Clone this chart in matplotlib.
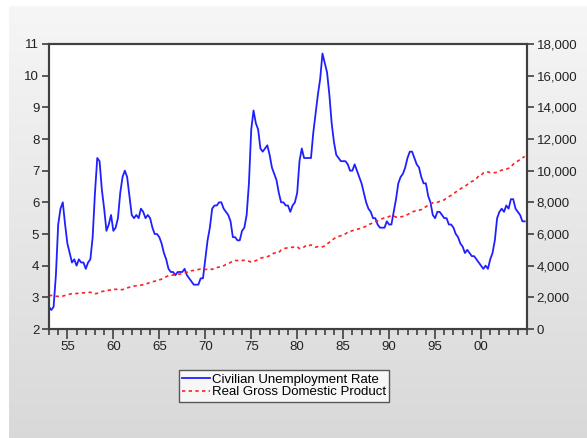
import numpy as np
import matplotlib
matplotlib.use('Agg')
import matplotlib.pyplot as plt
from matplotlib.ticker import FuncFormatter, MultipleLocator


# quarterly data, 1953Q1 - 2004Q4
start_year = 1953
unemployment = [
    2.7, 2.6, 2.7, 3.7,  5.3, 5.8, 6.0, 5.3,  4.7, 4.4, 4.1, 4.2,
    4.0, 4.2, 4.1, 4.1,  3.9, 4.1, 4.2, 4.9,  6.3, 7.4, 7.3, 6.4,
    5.8, 5.1, 5.3, 5.6,  5.1, 5.2, 5.5, 6.3,  6.8, 7.0, 6.8, 6.2,
    5.6, 5.5, 5.6, 5.5,  5.8, 5.7, 5.5, 5.6,  5.5, 5.2, 5.0, 5.0,
    4.9, 4.7, 4.4, 4.2,  3.9, 3.8, 3.8, 3.7,  3.8, 3.8, 3.8, 3.9,
    3.7, 3.6, 3.5, 3.4,  3.4, 3.4, 3.6, 3.6,  4.2, 4.8, 5.2, 5.8,
    5.9, 5.9, 6.0, 6.0,  5.8, 5.7, 5.6, 5.4,  4.9, 4.9, 4.8, 4.8,
    5.1, 5.2, 5.6, 6.6,  8.3, 8.9, 8.5, 8.3,  7.7, 7.6, 7.7, 7.8,
    7.5, 7.1, 6.9, 6.7,  6.3, 6.0, 6.0, 5.9,  5.9, 5.7, 5.9, 6.0,
    6.3, 7.3, 7.7, 7.4,  7.4, 7.4, 7.4, 8.2,  8.8, 9.4, 9.9, 10.7,
    10.4, 10.1, 9.4, 8.5,  7.9, 7.5, 7.4, 7.3,  7.3, 7.3, 7.2, 7.0,
    7.0, 7.2, 7.0, 6.8,  6.6, 6.3, 6.0, 5.8,  5.7, 5.5, 5.5, 5.3,
    5.2, 5.2, 5.2, 5.4,  5.3, 5.3, 5.7, 6.1,  6.6, 6.8, 6.9, 7.1,
    7.4, 7.6, 7.6, 7.4,  7.2, 7.1, 6.8, 6.6,  6.6, 6.2, 6.0, 5.6,
    5.5, 5.7, 5.7, 5.6,  5.5, 5.5, 5.3, 5.3,  5.2, 5.0, 4.9, 4.7,
    4.6, 4.4, 4.5, 4.4,  4.3, 4.3, 4.2, 4.1,  4.0, 3.9, 4.0, 3.9,
    4.2, 4.4, 4.8, 5.5,  5.7, 5.8, 5.7, 5.9,  5.8, 6.1, 6.1, 5.8,
    5.7, 5.6, 5.4, 5.4,
]
real_gdp = [
    2110, 2120, 2100, 2070,  2060, 2060, 2080, 2120,  2170, 2200, 2230, 2250,
    2240, 2260, 2260, 2280,  2300, 2300, 2320, 2280,  2230, 2250, 2300, 2360,
    2400, 2460, 2450, 2460,  2520, 2500, 2510, 2480,  2490, 2540, 2590, 2640,
    2680, 2710, 2730, 2740,  2770, 2800, 2860, 2880,  2950, 2980, 3020, 3030,
    3100, 3150, 3220, 3300,  3370, 3390, 3410, 3430,  3460, 3470, 3500, 3520,
    3580, 3650, 3680, 3700,  3750, 3760, 3780, 3760,  3760, 3770, 3800, 3760,
    3860, 3880, 3910, 3920,  3990, 4080, 4130, 4200,  4310, 4330, 4320, 4360,
    4330, 4340, 4300, 4280,  4220, 4250, 4320, 4370,  4470, 4510, 4530, 4570,
    4630, 4720, 4800, 4800,  4830, 4990, 5050, 5110,  5120, 5130, 5170, 5180,
    5190, 5080, 5080, 5180,  5290, 5250, 5310, 5250,  5170, 5200, 5180, 5190,
    5250, 5370, 5480, 5590,  5700, 5800, 5850, 5890,  5960, 6010, 6110, 6150,
    6210, 6240, 6300, 6330,  6370, 6430, 6500, 6610,  6640, 6720, 6760, 6840,
    6920, 6970, 7020, 7030,  7110, 7150, 7130, 7070,  7040, 7080, 7110, 7140,
    7230, 7300, 7370, 7450,  7450, 7500, 7540, 7650,  7720, 7820, 7880, 7970,
    7980, 8000, 8060, 8100,  8160, 8280, 8360, 8440,  8530, 8650, 8760, 8850,
    8930, 9010, 9120, 9250,  9320, 9380, 9500, 9680,  9700, 9860, 9860, 9920,
    9880, 9900, 9870, 9900,  9980, 10030, 10090, 10100,  10150, 10230, 10410, 10500,
    10610, 10700, 10800, 10900,
]
year_labels = ['55', '60', '65', '70', '75', '80', '85', '90', '95', '00']
series_names = ['Civilian Unemployment Rate', 'Real Gross Domestic Product']

t = start_year + np.arange(len(unemployment)) / 4.0

plt.rcParams['font.family'] = ['Liberation Sans', 'DejaVu Sans']
fig = plt.figure(figsize=(5.87, 4.38), dpi=100)

# grey gradient panel behind everything
bg = fig.add_axes([9 / 587, 0, 1 - 9 / 587, 1 - 6 / 438], zorder=-10)
grad = np.linspace(0.965, 0.85, 256).reshape(-1, 1)
bg.imshow(np.dstack([grad, grad, grad]), aspect='auto', extent=[0, 1, 0, 1])
bg.set_axis_off()

edge = '#404040'
ax = fig.add_axes([49 / 587, 1 - 329 / 438, 478 / 587, 285 / 438])
ax.set_facecolor('white')
l1, = ax.plot(t, unemployment, color='#2020ff', lw=1.3)
ax.set_xlim(1953, 2005)
ax.set_ylim(2, 11)
ax.set_yticks(range(2, 12))

ax2 = ax.twinx()
l2, = ax2.plot(t, real_gdp, color='#ff2020', lw=1.2, ls=(0, (2, 2)))
ax2.set_ylim(0, 18000)
ax2.set_yticks(range(0, 18001, 2000))
ax2.yaxis.set_major_formatter(FuncFormatter(lambda v, p: f'{int(v):,}'))

ax.set_xticks(range(1955, 2001, 5))
ax.set_xticklabels(year_labels)
ax.xaxis.set_minor_locator(MultipleLocator(1))

for a in (ax, ax2):
    for s in a.spines.values():
        s.set_color(edge)
        s.set_linewidth(1.5)
    a.tick_params(axis='both', which='major', direction='out', length=5,
                  width=1.2, color=edge, labelsize=9.5, labelcolor='#222222', pad=2)
ax.tick_params(axis='x', which='major', length=7)
ax.tick_params(axis='x', which='minor', direction='out', length=4,
               width=1.2, color=edge)

leg = fig.legend([l1, l2], series_names, loc='upper left',
                 bbox_to_anchor=(179 / 587, 1 - 370 / 438), fontsize=9.5,
                 frameon=True, fancybox=False, handlelength=2.1,
                 handletextpad=0.15, borderpad=0.25, labelspacing=0.05,
                 borderaxespad=0)
leg.get_frame().set_edgecolor('#333333')
leg.get_frame().set_linewidth(1.0)

fig.savefig('out.png', dpi=100)
